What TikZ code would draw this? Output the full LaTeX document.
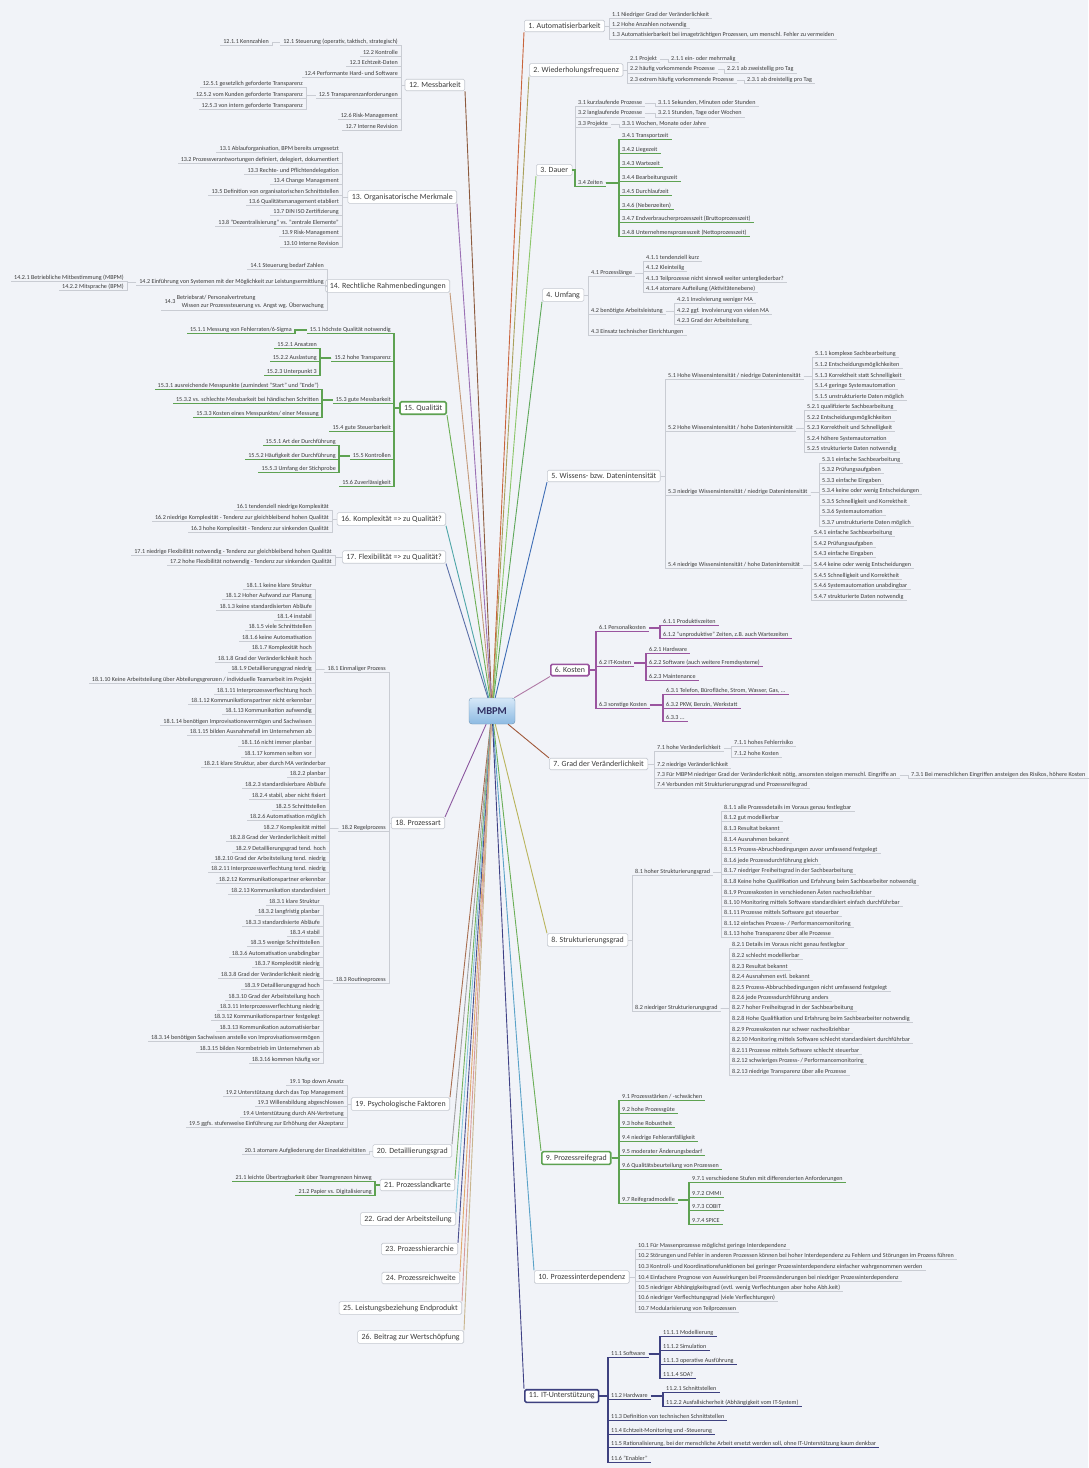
\documentclass[tikz,border=0pt]{standalone}
\usepackage{fontspec}
\setmainfont{Carlito}
\usepackage{xcolor}
\usepackage{tikz}

\definecolor{paper}{HTML}{F1F3F8}
\definecolor{txt}{HTML}{3A3A3A}
\definecolor{boxline}{HTML}{C4C8D0}
\definecolor{subline}{HTML}{C9CCD3}
\definecolor{grn}{HTML}{5EA252}
\definecolor{purp}{HTML}{9A559F}
\definecolor{navy}{HTML}{3E4180}
\definecolor{rootA}{HTML}{D6E8F8}
\definecolor{rootB}{HTML}{8DBAE2}
\definecolor{c1}{HTML}{C8643C}
\definecolor{c2}{HTML}{A9A05A}
\definecolor{c3}{HTML}{8CC66A}
\definecolor{c4}{HTML}{5FA85A}
\definecolor{c5}{HTML}{3E6DB5}
\definecolor{c6}{HTML}{B07AA6}
\definecolor{c7}{HTML}{A0583A}
\definecolor{c8}{HTML}{B9B45C}
\definecolor{c9}{HTML}{6BAE57}
\definecolor{c10}{HTML}{5AA2C8}
\definecolor{c11}{HTML}{3F4185}
\definecolor{c12}{HTML}{8C5A3E}
\definecolor{c13}{HTML}{9A70B4}
\definecolor{c14}{HTML}{C49A7A}
\definecolor{c15}{HTML}{6DAF55}
\definecolor{c16}{HTML}{4FA6A8}
\definecolor{c17}{HTML}{5B6FA8}
\definecolor{c18}{HTML}{8C58A0}
\definecolor{c19}{HTML}{A86E50}
\definecolor{c20}{HTML}{A0A0A0}
\definecolor{c21}{HTML}{74B25E}
\definecolor{c22}{HTML}{86C5DA}
\definecolor{c23}{HTML}{4A4E8E}
\definecolor{c24}{HTML}{E0A66A}
\definecolor{c25}{HTML}{D79A9A}
\definecolor{c26}{HTML}{C9B58E}

\newcommand{\leaffont}{\fontsize{6.1}{7}\selectfont}
\newcommand{\topicfont}{\fontsize{7.9}{9}\selectfont}
\newcommand{\rootfont}{\fontsize{10.5}{12}\selectfont\bfseries}

% child to the right / to the left of its parent, underlined from the spine
\newcommand{\kidR}[6][sub]{\node[leafR] (#2) at (#4,#5) {#6};
  \draw[#1] (#3.east) -- (#3.east -| #2.south west) |- (#2.south east);}
\newcommand{\kidL}[6][sub]{\node[leafL] (#2) at (#4,#5) {#6};
  \draw[#1] (#3.west) -- (#3.west -| #2.south east) |- (#2.south west);}

\begin{document}
\begin{tikzpicture}[x=1pt, y=-1pt]
            \tikzstyle{leafR} = [anchor=west, inner xsep=3pt, inner ysep=0.4pt, text height=4.4pt, text depth=1.5pt, font=\leaffont, text=txt]
            \tikzstyle{leafL} = [leafR, anchor=east]
            \tikzstyle{topic} = [draw=boxline, fill=white, rounded corners=1.5pt, line width=0.6pt, inner xsep=4pt, inner ysep=3pt, font=\topicfont, text=txt]
            \tikzstyle{topicR} = [topic, anchor=west]
            \tikzstyle{topicL} = [topic, anchor=east]
            \tikzstyle{sub} = [draw=subline, line width=0.45pt]
            \tikzstyle{subgreen} = [draw=grn, line width=1.3pt]
            \tikzstyle{subpurple} = [draw=purp, line width=1.5pt]
            \tikzstyle{subnavy} = [draw=navy, line width=1.5pt]
            \tikzstyle{root} = [draw=rootB!80!black, rounded corners=3pt, top color=rootA, bottom color=rootB, minimum width=46pt, minimum height=26pt, font=\rootfont, text=txt!80!blue]
            \tikzstyle{mainline} = [line width=0.9pt]

            \fill[paper] (0,0) rectangle (1088,1468);
            \useasboundingbox (0,0) rectangle (1088,1468);

            \node [root] (mbpm) at (492,711) {MBPM};

            \node [topicR] (t1) at (524,26) {1. Automatisierbarkeit};
            \kidR{n1-1}{t1}{609}{15}{1.1 Niedriger Grad der Veränderlichkeit}
            \kidR{n1-2}{t1}{609}{25}{1.2 Hohe Anzahlen notwendig}
            \kidR{n1-3}{t1}{609}{35.5}{1.3 Automatisierbarkeit bei imageträchtigen Prozessen, um menschl. Fehler zu vermeiden}

            \node [topicR] (t2) at (529,70) {2. Wiederholungsfrequenz};
            \kidR{n2-1}{t2}{627}{59}{2.1 Projekt}
            \kidR{n2-1-1}{n2-1}{668}{59}{2.1.1 ein- oder mehrmalig}
            \kidR{n2-2}{t2}{627}{69.5}{2.2 häufig vorkommende Prozesse}
            \kidR{n2-2-1}{n2-2}{724}{69.5}{2.2.1 ab zweistellig pro Tag}
            \kidR{n2-3}{t2}{627}{80}{2.3 extrem häufig vorkommende Prozesse}
            \kidR{n2-3-1}{n2-3}{744}{80}{2.3.1 ab dreistellig pro Tag}

            \node [topicR] (t3) at (536,170) {3. Dauer};
            \kidR{n3-1}{t3}{575}{103}{3.1 kurzlaufende Prozesse}
            \kidR{n3-1-1}{n3-1}{655}{103}{3.1.1 Sekunden, Minuten oder Stunden}
            \kidR{n3-2}{t3}{575}{113.5}{3.2 langlaufende Prozesse}
            \kidR{n3-2-1}{n3-2}{655}{113.5}{3.2.1 Stunden, Tage oder Wochen}
            \kidR{n3-3}{t3}{575}{124}{3.3 Projekte}
            \kidR{n3-3-1}{n3-3}{619}{124}{3.3.1 Wochen, Monate oder Jahre}
            \kidR[subgreen]{n3-4}{t3}{575}{183}{3.4 Zeiten}
            \kidR[subgreen]{n3-4-1}{n3-4}{619}{136}{3.4.1 Transportzeit}
            \kidR[subgreen]{n3-4-2}{n3-4}{619}{150}{3.4.2 Liegezeit}
            \kidR[subgreen]{n3-4-3}{n3-4}{619}{164}{3.4.3 Wartezeit}
            \kidR[subgreen]{n3-4-4}{n3-4}{619}{178}{3.4.4 Bearbeitungszeit}
            \kidR[subgreen]{n3-4-5}{n3-4}{619}{192}{3.4.5 Durchlaufzeit}
            \kidR[subgreen]{n3-4-6}{n3-4}{619}{206}{3.4.6 (Nebenzeiten)}
            \kidR[subgreen]{n3-4-7}{n3-4}{619}{219}{3.4.7 Endverbraucherprozesszeit (Bruttoprozesszeit)}
            \kidR[subgreen]{n3-4-8}{n3-4}{619}{233}{3.4.8 Unternehmensprozesszeit (Nettoprozesszeit)}

            \node [topicR] (t4) at (542,295) {4. Umfang};
            \kidR{n4-1}{t4}{588}{273}{4.1 Prozesslänge}
            \kidR{n4-1-1}{n4-1}{643}{258}{4.1.1 tendenziell kurz}
            \kidR{n4-1-2}{n4-1}{643}{268}{4.1.2 Kleinteilig}
            \kidR{n4-1-3}{n4-1}{643}{279}{4.1.3 Teilprozesse nicht sinnvoll weiter untergliederbar?}
            \kidR{n4-1-4}{n4-1}{643}{289}{4.1.4 atomare Aufteilung (Aktivitätenebene)}
            \kidR{n4-2}{t4}{588}{311}{4.2 benötigte Arbeitsleistung}
            \kidR{n4-2-1}{n4-2}{674}{300}{4.2.1 Involvierung weniger MA}
            \kidR{n4-2-2}{n4-2}{674}{311}{4.2.2 ggf. Involvierung von vielen MA}
            \kidR{n4-2-3}{n4-2}{674}{321}{4.2.3 Grad der Arbeitsteilung}
            \kidR{n4-3}{t4}{588}{332}{4.3 Einsatz technischer Einrichtungen}

            \node [topicR] (t5) at (547,476) {5. Wissens- bzw. Datenintensität};
            \kidR{n5-1}{t5}{665}{376}{5.1 Hohe Wissensintensität / niedrige Datenintensität}
            \kidR{n5-1-1}{n5-1}{812}{354}{5.1.1 komplexe Sachbearbeitung}
            \kidR{n5-1-2}{n5-1}{812}{365}{5.1.2 Entscheidungsmöglichkeiten}
            \kidR{n5-1-3}{n5-1}{812}{376}{5.1.3 Korrektheit statt Schnelligkeit}
            \kidR{n5-1-4}{n5-1}{812}{386}{5.1.4 geringe Systemautomation}
            \kidR{n5-1-5}{n5-1}{812}{397}{5.1.5 unstrukturierte Daten möglich}
            \kidR{n5-2}{t5}{665}{428}{5.2 Hohe Wissensintensität / hohe Datenintensität}
            \kidR{n5-2-1}{n5-2}{804}{407}{5.2.1 qualifizierte Sachbearbeitung}
            \kidR{n5-2-2}{n5-2}{804}{418}{5.2.2 Entscheidungsmöglichkeiten}
            \kidR{n5-2-3}{n5-2}{804}{428}{5.2.3 Korrektheit und Schnelligkeit}
            \kidR{n5-2-4}{n5-2}{804}{439}{5.2.4 höhere Systemautomation}
            \kidR{n5-2-5}{n5-2}{804}{449}{5.2.5 strukturierte Daten notwendig}
            \kidR{n5-3}{t5}{665}{492}{5.3 niedrige Wissensintensität / niedrige Datenintensität}
            \kidR{n5-3-1}{n5-3}{819}{460}{5.3.1 einfache Sachbearbeitung}
            \kidR{n5-3-2}{n5-3}{819}{470}{5.3.2 Prüfungsaufgaben}
            \kidR{n5-3-3}{n5-3}{819}{481}{5.3.3 einfache Eingaben}
            \kidR{n5-3-4}{n5-3}{819}{491}{5.3.4 keine oder wenig Entscheidungen}
            \kidR{n5-3-5}{n5-3}{819}{502}{5.3.5 Schnelligkeit und Korrektheit}
            \kidR{n5-3-6}{n5-3}{819}{512}{5.3.6 Systemautomation}
            \kidR{n5-3-7}{n5-3}{819}{523}{5.3.7 unstrukturierte Daten möglich}
            \kidR{n5-4}{t5}{665}{565}{5.4 niedrige Wissensintensität / hohe Datenintensität}
            \kidR{n5-4-1}{n5-4}{811}{533}{5.4.1 einfache Sachbearbeitung}
            \kidR{n5-4-2}{n5-4}{811}{544}{5.4.2 Prüfungsaufgaben}
            \kidR{n5-4-3}{n5-4}{811}{554}{5.4.3 einfache Eingaben}
            \kidR{n5-4-4}{n5-4}{811}{565}{5.4.4 keine oder wenig Entscheidungen}
            \kidR{n5-4-5}{n5-4}{811}{576}{5.4.5 Schnelligkeit und Korrektheit}
            \kidR{n5-4-6}{n5-4}{811}{586}{5.4.6 Systemautomation unabdingbar}
            \kidR{n5-4-7}{n5-4}{811}{597}{5.4.7 strukturierte Daten notwendig}

            \node [topicR, draw=purp, line width=1.6pt] (t6) at (550,670) {6. Kosten};
            \kidR[subpurple]{n6-1}{t6}{596}{628}{6.1 Personalkosten}
            \kidR[subpurple]{n6-1-1}{n6-1}{660}{622}{6.1.1 Produktivzeiten}
            \kidR[subpurple]{n6-1-2}{n6-1}{660}{635}{6.1.2 "unproduktive" Zeiten, z.B. auch Wartezeiten}
            \kidR[subpurple]{n6-2}{t6}{596}{663}{6.2 IT-Kosten}
            \kidR[subpurple]{n6-2-1}{n6-2}{646}{650}{6.2.1 Hardware}
            \kidR[subpurple]{n6-2-2}{n6-2}{646}{663}{6.2.2 Software (auch weitere Fremdsysteme)}
            \kidR[subpurple]{n6-2-3}{n6-2}{646}{677}{6.2.3 Maintenance}
            \kidR[subpurple]{n6-3}{t6}{596}{705}{6.3 sonstige Kosten}
            \kidR[subpurple]{n6-3-1}{n6-3}{663}{691}{6.3.1 Telefon, Bürofläche, Strom, Wasser, Gas, ...}
            \kidR[subpurple]{n6-3-2}{n6-3}{663}{705}{6.3.2 PKW, Benzin, Werkstatt}
            \kidR[subpurple]{n6-3-3}{n6-3}{663}{718}{6.3.3 ...}

            \node [topicR] (t7) at (549,764) {7. Grad der Veränderlichkeit};
            \kidR{n7-1}{t7}{654}{748}{7.1 hohe Veränderlichkeit}
            \kidR{n7-1-1}{n7-1}{731}{743}{7.1.1 hohes Fehlerrisiko}
            \kidR{n7-1-2}{n7-1}{731}{754}{7.1.2 hohe Kosten}
            \kidR{n7-2}{t7}{654}{765}{7.2 niedrige Veränderlichkeit}
            \kidR{n7-3}{t7}{654}{775}{7.3 Für MBPM niedriger Grad der Veränderlichkeit nötig, ansonsten steigen menschl. Eingriffe an}
            \kidR{n7-3-1}{n7-3}{908}{775}{7.3.1 Bei menschlichen Eingriffen ansteigen des Risikos, höhere Kosten}
            \kidR{n7-4}{t7}{654}{785}{7.4 Verbunden mit Strukturierungsgrad und Prozessreifegrad}

            \node [topicR] (t8) at (547,940) {8. Strukturierungsgrad};
            \kidR{n8-1}{t8}{632}{872}{8.1 hoher Strukturierungsgrad}
            \kidR{n8-1-1}{n8-1}{721}{808}{8.1.1 alle Prozessdetails im Voraus genau festlegbar}
            \kidR{n8-1-2}{n8-1}{721}{818}{8.1.2 gut modellierbar}
            \kidR{n8-1-3}{n8-1}{721}{829}{8.1.3 Resultat bekannt}
            \kidR{n8-1-4}{n8-1}{721}{840}{8.1.4 Ausnahmen bekannt}
            \kidR{n8-1-5}{n8-1}{721}{850}{8.1.5 Prozess-Abruchbedingungen zuvor umfassend festgelegt}
            \kidR{n8-1-6}{n8-1}{721}{861}{8.1.6 jede Prozessdurchführung gleich}
            \kidR{n8-1-7}{n8-1}{721}{871}{8.1.7 niedriger Freiheitsgrad in der Sachbearbeitung}
            \kidR{n8-1-8}{n8-1}{721}{882}{8.1.8 Keine hohe Qualifikation und Erfahrung beim Sachbearbeiter notwendig}
            \kidR{n8-1-9}{n8-1}{721}{893}{8.1.9 Prozesskosten in verschiedenen Ästen nachvollziehbar}
            \kidR{n8-1-10}{n8-1}{721}{903}{8.1.10 Monitoring mittels Software standardisiert einfach durchführbar}
            \kidR{n8-1-11}{n8-1}{721}{913}{8.1.11 Prozesse mittels Software gut steuerbar}
            \kidR{n8-1-12}{n8-1}{721}{924}{8.1.12 einfaches Prozess- / Performancemonitoring}
            \kidR{n8-1-13}{n8-1}{721}{934}{8.1.13 hohe Transparenz über alle Prozesse}
            \kidR{n8-2}{t8}{632}{1008}{8.2 niedriger Strukturierungsgrad}
            \kidR{n8-2-1}{n8-2}{729}{945}{8.2.1 Details im Voraus nicht genau festlegbar}
            \kidR{n8-2-2}{n8-2}{729}{956}{8.2.2 schlecht modellierbar}
            \kidR{n8-2-3}{n8-2}{729}{967}{8.2.3 Resultat bekannt}
            \kidR{n8-2-4}{n8-2}{729}{977}{8.2.4 Ausnahmen evtl. bekannt}
            \kidR{n8-2-5}{n8-2}{729}{988}{8.2.5 Prozess-Abbruchbedingungen nicht umfassend festgelegt}
            \kidR{n8-2-6}{n8-2}{729}{998}{8.2.6 jede Prozessdurchführung anders}
            \kidR{n8-2-7}{n8-2}{729}{1008}{8.2.7 hoher Freiheitsgrad in der Sachbearbeitung}
            \kidR{n8-2-8}{n8-2}{729}{1019}{8.2.8 Hohe Qualifikation und Erfahrung beim Sachbearbeiter notwendig}
            \kidR{n8-2-9}{n8-2}{729}{1030}{8.2.9 Prozesskosten nur schwer nachvollziehbar}
            \kidR{n8-2-10}{n8-2}{729}{1040}{8.2.10 Monitoring mittels Software schlecht standardisiert durchführbar}
            \kidR{n8-2-11}{n8-2}{729}{1051}{8.2.11 Prozesse mittels Software schlecht steuerbar}
            \kidR{n8-2-12}{n8-2}{729}{1061}{8.2.12 schwieriges Prozess- / Performancemonitoring}
            \kidR{n8-2-13}{n8-2}{729}{1072}{8.2.13 niedrige Transparenz über alle Prozesse}

            \node [topicR, draw=grn, line width=1.6pt] (t9) at (541,1158) {9. Prozessreifegrad};
            \kidR[subgreen]{n9-1}{t9}{619}{1097}{9.1 Prozessstärken / -schwächen}
            \kidR[subgreen]{n9-2}{t9}{619}{1110}{9.2 hohe Prozessgüte}
            \kidR[subgreen]{n9-3}{t9}{619}{1124}{9.3 hohe Robustheit}
            \kidR[subgreen]{n9-4}{t9}{619}{1138}{9.4 niedrige Fehleranfälligkeit}
            \kidR[subgreen]{n9-5}{t9}{619}{1152}{9.5 moderater Änderungsbedarf}
            \kidR[subgreen]{n9-6}{t9}{619}{1166}{9.6 Qualitätsbeurteilung von Prozessen}
            \kidR[subgreen]{n9-7}{t9}{619}{1200}{9.7 Reifegradmodelle}
            \kidR[subgreen]{n9-7-1}{n9-7}{689}{1179}{9.7.1 verschiedene Stufen mit differenzierten Anforderungen}
            \kidR[subgreen]{n9-7-2}{n9-7}{689}{1194}{9.7.2 CMMI}
            \kidR[subgreen]{n9-7-3}{n9-7}{689}{1207}{9.7.3 COBIT}
            \kidR[subgreen]{n9-7-4}{n9-7}{689}{1221}{9.7.4 SPICE}

            \node [topicR] (t10) at (534,1277) {10. Prozessinterdependenz};
            \kidR{n10-1}{t10}{635}{1246}{10.1 Für Massenprozesse möglichst geringe Interdependenz}
            \kidR{n10-2}{t10}{635}{1256}{10.2 Störungen und Fehler in anderen Prozessen können bei hoher Interdependenz zu Fehlern und Störungen im Prozess führen}
            \kidR{n10-3}{t10}{635}{1267}{10.3 Kontroll- und Koordinationsfunktionen bei geringer Prozessinterdependenz einfacher wahrgenommen werden}
            \kidR{n10-4}{t10}{635}{1278}{10.4 Einfachere Prognose von Auswirkungen bei Prozessänderungen bei niedriger Prozessinterdependenz}
            \kidR{n10-5}{t10}{635}{1288}{10.5 niedriger Abhängigkeitsgrad (evtl. wenig Verflechtungen aber hohe Abh.keit)}
            \kidR{n10-6}{t10}{635}{1298}{10.6 niedriger Verflechtungsgrad (viele Verflechtungen)}
            \kidR{n10-7}{t10}{635}{1309}{10.7 Modularisierung von Teilprozessen}

            \node [topicR, draw=navy, line width=1.6pt] (t11) at (524,1396) {11. IT-Unterstützung};
            \kidR[subnavy]{n11-1}{t11}{608}{1354}{11.1 Software}
            \kidR[subnavy]{n11-1-1}{n11-1}{660}{1333}{11.1.1 Modellierung}
            \kidR[subnavy]{n11-1-2}{n11-1}{660}{1347}{11.1.2 Simulation}
            \kidR[subnavy]{n11-1-3}{n11-1}{660}{1361}{11.1.3 operative Ausführung}
            \kidR[subnavy]{n11-1-4}{n11-1}{660}{1375}{11.1.4 SOA?}
            \kidR[subnavy]{n11-2}{t11}{608}{1396}{11.2 Hardware}
            \kidR[subnavy]{n11-2-1}{n11-2}{663}{1389}{11.2.1 Schnittstellen}
            \kidR[subnavy]{n11-2-2}{n11-2}{663}{1403}{11.2.2 Ausfallsicherheit (Abhängigkeit vom IT-System)}
            \kidR[subnavy]{n11-3}{t11}{608}{1417}{11.3 Definition von technischen Schnittstellen}
            \kidR[subnavy]{n11-4}{t11}{608}{1431}{11.4 Echtzeit-Monitoring und -Steuerung}
            \kidR[subnavy]{n11-5}{t11}{608}{1444}{11.5 Rationalisierung, bei der menschliche Arbeit ersetzt werden soll, ohne IT-Unterstützung kaum denkbar}
            \kidR[subnavy]{n11-6}{t11}{608}{1459}{11.6 "Enabler"}

            \node [topicL] (t12) at (465,85) {12. Messbarkeit};
            \kidL{n12-1}{t12}{401}{42}{12.1 Steuerung (operativ, taktisch, strategisch)}
            \kidL{n12-1-1}{n12-1}{272}{42}{12.1.1 Kennzahlen}
            \kidL{n12-2}{t12}{401}{53}{12.2 Kontrolle}
            \kidL{n12-3}{t12}{401}{63}{12.3 Echtzeit-Daten}
            \kidL{n12-4}{t12}{401}{74}{12.4 Performante Hard- und Software}
            \kidL{n12-5}{t12}{401}{95}{12.5 Transparenzanforderungen}
            \kidL{n12-5-1}{n12-5}{306}{84}{12.5.1 gesetzlich geforderte Transparenz}
            \kidL{n12-5-2}{n12-5}{306}{95}{12.5.2 vom Kunden geforderte Transparenz}
            \kidL{n12-5-3}{n12-5}{306}{106}{12.5.3 von intern geforderte Transparenz}
            \kidL{n12-6}{t12}{401}{116}{12.6 Risk-Management}
            \kidL{n12-7}{t12}{401}{127}{12.7 Interne Revision}

            \node [topicL] (t13) at (457,197) {13. Organisatorische Merkmale};
            \kidL{n13-1}{t13}{342}{149}{13.1 Ablauforganisation, BPM bereits umgesetzt}
            \kidL{n13-2}{t13}{342}{160}{13.2 Prozessverantwortungen definiert, delegiert, dokumentiert}
            \kidL{n13-3}{t13}{342}{171}{13.3 Rechte- und Pflichtendelegation}
            \kidL{n13-4}{t13}{342}{181}{13.4 Change Management}
            \kidL{n13-5}{t13}{342}{192}{13.5 Definition von organisatorischen Schnittstellen}
            \kidL{n13-6}{t13}{342}{202}{13.6 Qualitätsmanagement etabliert}
            \kidL{n13-7}{t13}{342}{212}{13.7 DIN ISO Zertifizierung}
            \kidL{n13-8}{t13}{342}{223}{13.8 "Dezentralisierung" vs. "zentrale Elemente"}
            \kidL{n13-9}{t13}{342}{233}{13.9 Risk-Management}
            \kidL{n13-10}{t13}{342}{244}{13.10 Interne Revision}

            \node [topicL] (t14) at (450,286) {14. Rechtliche Rahmenbedingungen};
            \kidL{n14-1}{t14}{327}{266}{14.1 Steuerung bedarf Zahlen}
            \kidL{n14-2}{t14}{327}{282}{14.2 Einführung von Systemen mit der Möglichkeit zur Leistungsermittlung}
            \kidL{n14-2-1}{n14-2}{127}{278}{14.2.1 Betriebliche Mitbestimmung (MBPM)}
            \kidL{n14-2-2}{n14-2}{127}{287}{14.2.2 Mitsprache (BPM)}
            \node [anchor=east, inner xsep=3pt, inner ysep=0.4pt, font=\leaffont, text=txt] (n14-3) at (327,302)
                {14.3 \begin{tabular}{@{}l@{}}Betriebsrat/ Personalvertretung\\[0.6pt]\hspace{5pt}Wissen zur Prozesssteuerung vs. Angst wg. Überwachung\end{tabular}};
            \draw [sub] (t14.west) -- (t14.west -| n14-3.south east) |- (n14-3.south west);

            \node [topicL, draw=grn, line width=1.6pt] (t15) at (447,408) {15. Qualität};
            \kidL[subgreen]{n15-1}{t15}{394}{330}{15.1 höchste Qualität notwendig}
            \kidL[subgreen]{n15-1-1}{n15-1}{295}{330}{15.1.1 Messung von Fehlerraten/6-Sigma}
            \kidL[subgreen]{n15-2}{t15}{394}{358}{15.2 hohe Transparenz}
            \kidL[subgreen]{n15-2-1}{n15-2}{320}{345}{15.2.1 Ansatzen}
            \kidL[subgreen]{n15-2-2}{n15-2}{320}{358}{15.2.2 Auslastung}
            \kidL[subgreen]{n15-2-3}{n15-2}{320}{372}{15.2.3 Unterpunkt 3}
            \kidL[subgreen]{n15-3}{t15}{394}{400}{15.3 gute Messbarkeit}
            \kidL[subgreen]{n15-3-1}{n15-3}{322}{386}{15.3.1 ausreichende Messpunkte (zumindest "Start" und "Ende")}
            \kidL[subgreen]{n15-3-2}{n15-3}{322}{400}{15.3.2 vs. schlechte Messbarkeit bei händischen Schritten}
            \kidL[subgreen]{n15-3-3}{n15-3}{322}{414}{15.3.3 Kosten eines Messpunktes/ einer Messung}
            \kidL[subgreen]{n15-4}{t15}{394}{428}{15.4 gute Steuerbarkeit}
            \kidL[subgreen]{n15-5}{t15}{394}{456}{15.5 Kontrollen}
            \kidL[subgreen]{n15-5-1}{n15-5}{339}{442}{15.5.1 Art der Durchführung}
            \kidL[subgreen]{n15-5-2}{n15-5}{339}{456}{15.5.2 Häufigkeit der Durchführung}
            \kidL[subgreen]{n15-5-3}{n15-5}{339}{469}{15.5.3 Umfang der Stichprobe}
            \kidL[subgreen]{n15-6}{t15}{394}{483}{15.6 Zuverlässigkeit}

            \node [topicL] (t16) at (446,519) {16. Komplexität => zu Qualität?};
            \kidL{n16-1}{t16}{332}{507}{16.1 tendenziell niedrige Komplexität}
            \kidL{n16-2}{t16}{332}{518}{16.2 niedrige Komplexität - Tendenz zur gleichbleibend hohen Qualität}
            \kidL{n16-3}{t16}{332}{529}{16.3 hohe Komplexität - Tendenz zur sinkenden Qualität}

            \node [topicL] (t17) at (446,557) {17. Flexibilität => zu Qualität?};
            \kidL{n17-1}{t17}{335}{552}{17.1 niedrige Flexibilität notwendig - Tendenz zur gleichbleibend hohen Qualität}
            \kidL{n17-2}{t17}{335}{562}{17.2 hohe Flexibilität notwendig - Tendenz zur sinkenden Qualität}

            \node [topicL] (t18) at (445,823) {18. Prozessart};
            \kidL{n18-1}{t18}{389}{669}{18.1 Einmaliger Prozess}
            \kidL{n18-1-1}{n18-1}{315}{586}{18.1.1 keine klare Struktur}
            \kidL{n18-1-2}{n18-1}{315}{596}{18.1.2 Hoher Aufwand zur Planung}
            \kidL{n18-1-3}{n18-1}{315}{607}{18.1.3 keine standardisierten Abläufe}
            \kidL{n18-1-4}{n18-1}{315}{617}{18.1.4 instabil}
            \kidL{n18-1-5}{n18-1}{315}{627}{18.1.5 viele Schnittstellen}
            \kidL{n18-1-6}{n18-1}{315}{638}{18.1.6 keine Automatisation}
            \kidL{n18-1-7}{n18-1}{315}{648}{18.1.7 Komplexität hoch}
            \kidL{n18-1-8}{n18-1}{315}{659}{18.1.8 Grad der Veränderlichkeit hoch}
            \kidL{n18-1-9}{n18-1}{315}{669}{18.1.9 Detaillierungsgrad niedrig}
            \kidL{n18-1-10}{n18-1}{315}{680}{18.1.10 Keine Arbeitsteilung über Abteilungsgrenzen / individuelle Teamarbeit im Projekt}
            \kidL{n18-1-11}{n18-1}{315}{691}{18.1.11 Interprozessverflechtung hoch}
            \kidL{n18-1-12}{n18-1}{315}{701}{18.1.12 Kommunikationspartner nicht erkennbar}
            \kidL{n18-1-13}{n18-1}{315}{711}{18.1.13 Kommunikation aufwendig}
            \kidL{n18-1-14}{n18-1}{315}{722}{18.1.14 benötigen Improvisationsvermögen und Sachwissen}
            \kidL{n18-1-15}{n18-1}{315}{732}{18.1.15 bilden Ausnahmefall im Unternehmen ab}
            \kidL{n18-1-16}{n18-1}{315}{743}{18.1.16 nicht immer planbar}
            \kidL{n18-1-17}{n18-1}{315}{754}{18.1.17 kommen selten vor}
            \kidL{n18-2}{t18}{389}{828}{18.2 Regelprozess}
            \kidL{n18-2-1}{n18-2}{329}{764}{18.2.1 klare Struktur, aber durch MA veränderbar}
            \kidL{n18-2-2}{n18-2}{329}{774}{18.2.2 planbar}
            \kidL{n18-2-3}{n18-2}{329}{785}{18.2.3 standardisierbare Abläufe}
            \kidL{n18-2-4}{n18-2}{329}{796}{18.2.4 stabil, aber nicht fixiert}
            \kidL{n18-2-5}{n18-2}{329}{807}{18.2.5 Schnittstellen}
            \kidL{n18-2-6}{n18-2}{329}{817}{18.2.6 Automatisation möglich}
            \kidL{n18-2-7}{n18-2}{329}{828}{18.2.7 Komplexität mittel}
            \kidL{n18-2-8}{n18-2}{329}{838}{18.2.8 Grad der Veränderlichkeit mittel}
            \kidL{n18-2-9}{n18-2}{329}{849}{18.2.9 Detaillierungsgrad tend. hoch}
            \kidL{n18-2-10}{n18-2}{329}{859}{18.2.10 Grad der Arbeitsteilung tend. niedrig}
            \kidL{n18-2-11}{n18-2}{329}{869}{18.2.11 Interprozessverflechtung tend. niedrig}
            \kidL{n18-2-12}{n18-2}{329}{880}{18.2.12 Kommunikationspartner erkennbar}
            \kidL{n18-2-13}{n18-2}{329}{891}{18.2.13 Kommunikation standardisiert}
            \kidL{n18-3}{t18}{389}{980}{18.3 Routineprozess}
            \kidL{n18-3-1}{n18-3}{323}{902}{18.3.1 klare Struktur}
            \kidL{n18-3-2}{n18-3}{323}{912}{18.3.2 langfristig planbar}
            \kidL{n18-3-3}{n18-3}{323}{923}{18.3.3 standardisierte Abläufe}
            \kidL{n18-3-4}{n18-3}{323}{933}{18.3.4 stabil}
            \kidL{n18-3-5}{n18-3}{323}{943}{18.3.5 wenige Schnittstellen}
            \kidL{n18-3-6}{n18-3}{323}{954}{18.3.6 Automatisation unabdingbar}
            \kidL{n18-3-7}{n18-3}{323}{964}{18.3.7 Komplexität niedrig}
            \kidL{n18-3-8}{n18-3}{323}{975}{18.3.8 Grad der Veränderlichkeit niedrig}
            \kidL{n18-3-9}{n18-3}{323}{986}{18.3.9 Detaillierungsgrad hoch}
            \kidL{n18-3-10}{n18-3}{323}{997}{18.3.10 Grad der Arbeitsteilung hoch}
            \kidL{n18-3-11}{n18-3}{323}{1007}{18.3.11 Interprozessverflechtung niedrig}
            \kidL{n18-3-12}{n18-3}{323}{1017}{18.3.12 Kommunikationspartner festgelegt}
            \kidL{n18-3-13}{n18-3}{323}{1028}{18.3.13 Kommunikation automatisierbar}
            \kidL{n18-3-14}{n18-3}{323}{1038}{18.3.14 benötigen Sachwissen anstelle von Improvisationsvermögen}
            \kidL{n18-3-15}{n18-3}{323}{1049}{18.3.15 bilden Normbetrieb im Unternehmen ab}
            \kidL{n18-3-16}{n18-3}{323}{1060}{18.3.16 kommen häufig vor}

            \node [topicL] (t19) at (450,1104) {19. Psychologische Faktoren};
            \kidL{n19-1}{t19}{347}{1082}{19.1 Top down Ansatz}
            \kidL{n19-2}{t19}{347}{1093}{19.2 Unterstützung durch das Top Management}
            \kidL{n19-3}{t19}{347}{1103}{19.3 Willensbildung abgeschlossen}
            \kidL{n19-4}{t19}{347}{1114}{19.4 Unterstützung durch AN-Vertretung}
            \kidL{n19-5}{t19}{347}{1124}{19.5 ggfs. stufenweise Einführung zur Erhöhung der Akzeptanz}

            \node [topicL] (t20) at (452,1151) {20. Detaillierungsgrad};
            \kidL{n20-1}{t20}{369}{1151}{20.1 atomare Aufgliederung der Einzelaktivitäten}

            \node [topicL] (t21) at (455,1185) {21. Prozesslandkarte};
            \kidL[subgreen]{n21-1}{t21}{375}{1178}{21.1 leichte Übertragbarkeit über Teamgrenzen hinweg}
            \kidL[subgreen]{n21-2}{t21}{375}{1192}{21.2 Papier vs. Digitalisierung}

            \node [topicL] (t22) at (456,1219) {22. Grad der Arbeitsteilung};
            \node [topicL] (t23) at (458,1249) {23. Prozesshierarchie};
            \node [topicL] (t24) at (460,1278) {24. Prozessreichweite};
            \node [topicL] (t25) at (462,1308) {25. Leistungsbeziehung Endprodukt};
            \node [topicL] (t26) at (464,1337) {26. Beitrag zur Wertschöpfung};

            \foreach \i/\a in {1/south west, 2/south west, 3/south west, 4/south west, 5/south west, 6/south west,
                               7/north west, 8/north west, 9/north west, 10/north west, 11/north west,
                               12/south east, 13/south east, 14/south east, 15/south east, 16/south east, 17/south east,
                               18/north east, 19/north east, 20/north east, 21/north east, 22/north east,
                               23/north east, 24/north east, 25/north east, 26/north east}
                \draw [mainline, draw=c\i] (mbpm) -- (t\i.\a);
        \end{tikzpicture}
\end{document}
